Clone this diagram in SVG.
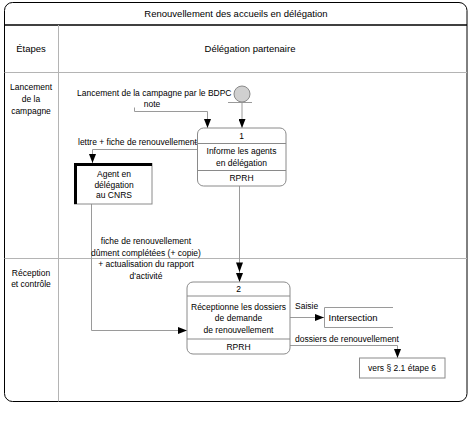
<svg xmlns="http://www.w3.org/2000/svg" width="473" height="428" viewBox="0 0 473 428">
<style>
text{font-family:"Liberation Sans",Arial,sans-serif;font-size:8.5px;fill:#000}
.c{text-anchor:middle}
.h{font-size:9.5px}
.lane{stroke:#b4b4b4;stroke-width:1;fill:none}
.box{fill:#fff;stroke:#8a8a8a;stroke-width:1}
.div{stroke:#8a8a8a;stroke-width:1}
.con{stroke:#9a9a9a;stroke-width:1;fill:none}
.ah{fill:#000}
</style>
<defs>
<marker id="arr" viewBox="0 0 10 10" refX="10" refY="5" markerWidth="9" markerHeight="7" orient="auto" markerUnits="userSpaceOnUse" preserveAspectRatio="none">
<path d="M0,0 L10,5 L0,10 z" fill="#000"/>
</marker>
</defs>
<rect width="473" height="428" fill="#fff"/>
<g id="frame">
<rect x="4.5" y="2.5" width="462.5" height="399" rx="8" fill="none" stroke="#000" stroke-width="1"/>
<line x1="4.5" y1="25" x2="467" y2="25" stroke="#000" stroke-width="1.6"/>
<line class="lane" x1="58.5" y1="25" x2="58.5" y2="401.5"/>
<line class="lane" x1="4.5" y1="72.5" x2="467" y2="72.5"/>
<line class="lane" x1="4.5" y1="258.5" x2="467" y2="258.5"/>
<text class="c h" x="236" y="16.5">Renouvellement des accueils en délégation</text>
<text class="c h" x="31" y="51.5">Étapes</text>
<text class="c h" x="250" y="51.5">Délégation partenaire</text>
<text class="c" x="31" y="90">Lancement</text>
<text class="c" x="31" y="102">de la</text>
<text class="c" x="31" y="114">campagne</text>
<text class="c" x="31" y="276">Réception</text>
<text class="c" x="31" y="287">et contrôle</text>
</g>
<g id="connectors">
<line class="con" x1="228" y1="102.5" x2="252" y2="102.5"/>
<line class="con" x1="242" y1="102" x2="242" y2="128" marker-end="url(#arr)"/>
<polyline class="con" points="134.5,107.5 134.5,111.5 207.5,111.5 207.5,128" marker-end="url(#arr)"/>
<line class="con" x1="194" y1="142.5" x2="197" y2="142.5"/>
<polyline class="con" points="197,149.5 92.5,149.5 92.5,163" marker-end="url(#arr)"/>
<polyline class="con" points="91.5,204 91.5,330.5 187,330.5" marker-end="url(#arr)"/>
<line class="con" x1="239.5" y1="186" x2="239.5" y2="282" marker-end="url(#arr)"/>
<path class="ah" d="M236,262.5 L243,262.5 L239.5,272 z"/>
<line class="con" x1="290" y1="317.5" x2="324" y2="317.5" marker-end="url(#arr)"/>
<polyline class="con" points="290,345.5 397.5,345.5 397.5,358" marker-end="url(#arr)"/>
<text x="77" y="96">Lancement de la campagne par le BDPC</text>
<text class="c" x="152" y="107">note</text>
<text x="78" y="145">lettre + fiche de renouvellement</text>
<text class="c" x="146" y="244">fiche de renouvellement</text>
<text class="c" x="146" y="255.5">dûment complétées (+ copie)</text>
<text class="c" x="146" y="267">+ actualisation du rapport</text>
<text class="c" x="146" y="278.5">d'activité</text>
<text x="295" y="309">Saisie</text>
<text x="295" y="342">dossiers de renouvellement</text>
</g>
<g id="start">
<circle cx="242" cy="94" r="8" fill="#d0d0d0" stroke="#8a8a8a" stroke-width="1"/>
</g>
<g id="box1">
<rect class="box" x="197.5" y="128" width="88.5" height="58" rx="6"/>
<line class="div" x1="197.5" y1="143.5" x2="286" y2="143.5"/>
<line class="div" x1="197.5" y1="170.5" x2="286" y2="170.5"/>
<text class="c" x="241.5" y="138.5">1</text>
<text class="c" x="241.5" y="154">Informe les agents</text>
<text class="c" x="241.5" y="165.5">en délégation</text>
<text class="c" x="241.5" y="181">RPRH</text>
</g>
<g id="agent">
<rect class="box" x="74.5" y="163.5" width="77.5" height="40.5"/>
<polyline points="75.5,204 75.5,164.5 152,164.5" fill="none" stroke="#000" stroke-width="3"/>
<text class="c" x="114" y="177">Agent en</text>
<text class="c" x="114" y="187.5">délégation</text>
<text class="c" x="114" y="198">au CNRS</text>
</g>
<g id="box2">
<rect class="box" x="187" y="282" width="103" height="72" rx="6"/>
<line class="div" x1="187" y1="296" x2="290" y2="296"/>
<line class="div" x1="187" y1="339" x2="290" y2="339"/>
<text class="c" x="238.5" y="292">2</text>
<text class="c" x="238.5" y="309.5">Réceptionne les dossiers</text>
<text class="c" x="238.5" y="321">de demande</text>
<text class="c" x="238.5" y="333">de renouvellement</text>
<text class="c" x="238.5" y="350">RPRH</text>
</g>
<g id="intersection">
<polyline points="393,307.5 324.5,307.5 324.5,327.5 393,327.5" fill="#fff" stroke="#9a9a9a" stroke-width="1"/>
<text x="328.5" y="320.5" style="font-size:9.5px">Intersection</text>
</g>
<g id="vers">
<rect class="box" x="359.5" y="358" width="85.5" height="20" stroke="#a0a0a0"/>
<text class="c" x="402" y="371">vers § 2.1 étape 6</text>
</g>
</svg>
